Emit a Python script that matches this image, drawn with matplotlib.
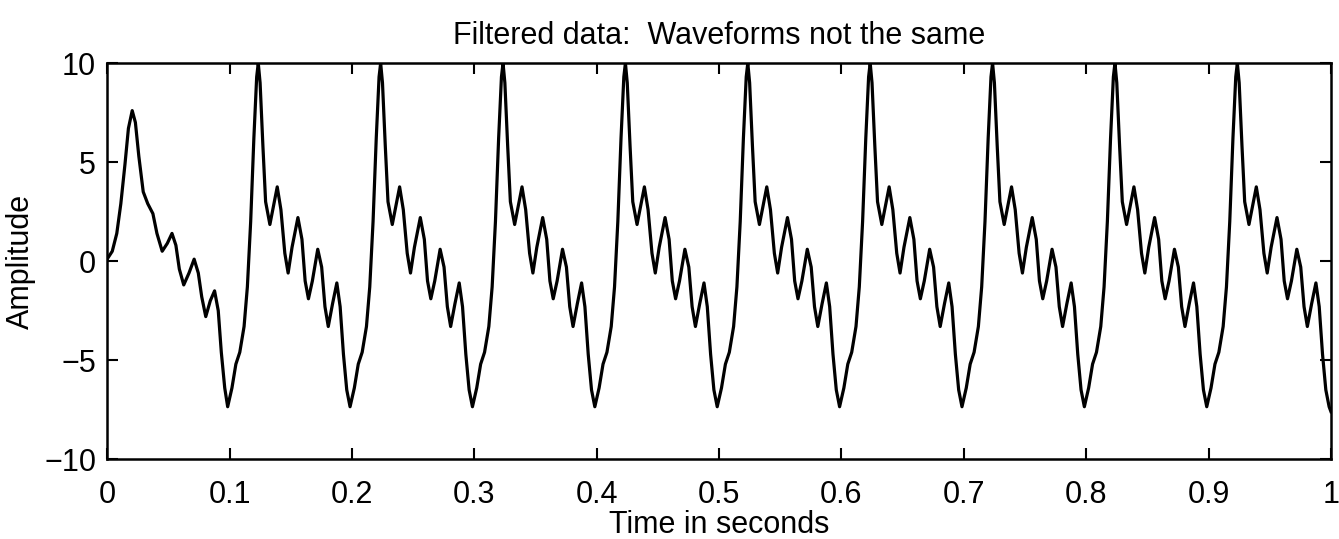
import numpy as np
import matplotlib.pyplot as plt
from matplotlib.ticker import FuncFormatter

plt.rcParams['font.family'] = ['Liberation Sans', 'DejaVu Sans']

# First cycle (start-up transient): time [s], amplitude
t_start = [0.0, 0.0042, 0.0079, 0.0112, 0.0146, 0.0174, 0.0205, 0.0231,
           0.0259, 0.0295, 0.0332, 0.0374, 0.0407, 0.0450, 0.0492, 0.0530,
           0.0562, 0.0590, 0.0626, 0.0669, 0.0711, 0.0745, 0.0773, 0.0806,
           0.0843, 0.0878, 0.0908, 0.0933, 0.0961]
y_start = [0.1, 0.5, 1.4, 2.9, 4.9, 6.7, 7.6, 7.0,
           5.3, 3.5, 2.9, 2.4, 1.4, 0.5, 0.9, 1.4,
           0.8, -0.4, -1.2, -0.6, 0.1, -0.6, -1.8, -2.8,
           -2.0, -1.5, -2.5, -4.6, -6.4]

# One steady cycle, phase measured from the trough [s], amplitude
phase_cycle = [0.0, 0.0035, 0.0067, 0.0099, 0.0134, 0.0161, 0.0188, 0.0214,
               0.0237, 0.0250, 0.0265, 0.0288, 0.0310, 0.0345, 0.0378, 0.0405,
               0.0435, 0.0467, 0.0494, 0.0526, 0.0574, 0.0607, 0.0633, 0.0660,
               0.0692, 0.0736, 0.0768, 0.0795, 0.0822, 0.0857, 0.0892, 0.0919,
               0.0946, 0.0973]
y_cycle = [-7.35, -6.4, -5.2, -4.6, -3.3, -1.3, 2.0, 6.2,
           9.3, 10.0, 9.0, 5.8, 3.0, 1.85, 2.9, 3.75,
           2.6, 0.4, -0.6, 0.7, 2.2, 1.1, -1.0, -1.9,
           -1.0, 0.6, -0.3, -2.3, -3.3, -2.15, -1.1, -2.3,
           -4.7, -6.5]

first_trough = 0.0985
n_cycles = 10
period = 0.1

# the waveform repeats every 0.1 s after the start-up cycle
t = list(t_start)
y = list(y_start)
for k in range(n_cycles):
    for p, v in zip(phase_cycle, y_cycle):
        tt = first_trough + k * period + p
        if tt <= 1.0:
            t.append(tt)
            y.append(v)
t.append(1.0)
y.append(-7.6)

fig = plt.figure(figsize=(13.39, 5.39), dpi=100)
ax = fig.add_axes([0.080, 0.148, 0.914, 0.735])
ax.plot(t, y, color='black', linewidth=2.3, solid_joinstyle='round')

ax.set_xlim(0, 1)
ax.set_ylim(-10, 10)
ax.set_xticks(np.arange(0, 1.01, 0.1))
ax.set_yticks([-10, -5, 0, 5, 10])
ax.xaxis.set_major_formatter(FuncFormatter(lambda v, pos: '%g' % round(v, 2)))
ax.yaxis.set_major_formatter(FuncFormatter(lambda v, pos: ('\u2212%g' % -v) if v < 0 else '%g' % v))
ax.tick_params(direction='in', length=8, width=1.5, labelsize=22,
               top=True, right=True)
ax.tick_params(axis='x', pad=15)
ax.tick_params(axis='y', pad=8)
for s in ax.spines.values():
    s.set_linewidth(1.8)

ax.set_title('Filtered data:  Waveforms not the same', fontsize=22, pad=14)
ax.set_xlabel('Time in seconds', fontsize=22, labelpad=0)
ax.set_ylabel('Amplitude', fontsize=22, labelpad=6)

fig.savefig('out.png', dpi=100)
